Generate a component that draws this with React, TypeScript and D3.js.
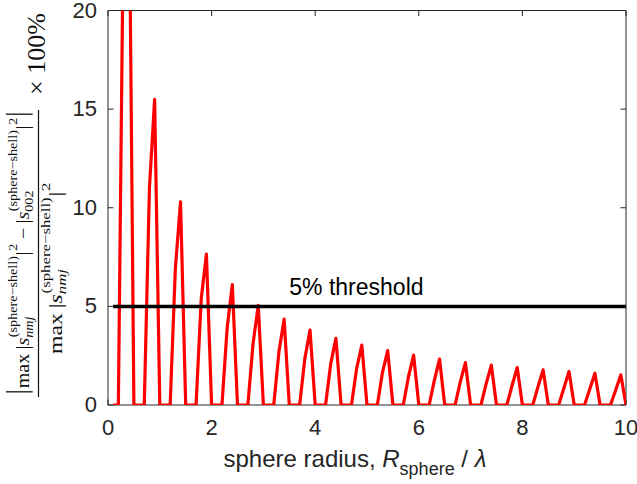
import React, { useEffect, useRef } from 'react';
import * as d3 from 'd3';

// sphere radius in wavelengths (sampling grid of the sweep)
const radius = [
  0.1, 0.2, 0.3, 0.4, 0.5, 0.6, 0.7, 0.8, 0.9, 1.0,
  1.1, 1.2, 1.3, 1.4, 1.5, 1.6, 1.7, 1.8, 1.9, 2.0,
  2.1, 2.2, 2.3, 2.4, 2.5, 2.6, 2.7, 2.8, 2.9, 3.0,
  3.1, 3.2, 3.3, 3.4, 3.5, 3.6, 3.7, 3.8, 3.9, 4.0,
  4.1, 4.2, 4.3, 4.4, 4.5, 4.6, 4.7, 4.8, 4.9, 5.0,
  5.1, 5.2, 5.3, 5.4, 5.5, 5.6, 5.7, 5.8, 5.9, 6.0,
  6.1, 6.2, 6.3, 6.4, 6.5, 6.6, 6.7, 6.8, 6.9, 7.0,
  7.1, 7.2, 7.3, 7.4, 7.5, 7.6, 7.7, 7.8, 7.9, 8.0,
  8.1, 8.2, 8.3, 8.4, 8.5, 8.6, 8.7, 8.8, 8.9, 9.0,
  9.1, 9.2, 9.3, 9.4, 9.5, 9.6, 9.7, 9.8, 9.9, 10.0,
];

// relative error in percent
const errorPct = [
  0, 0, 25, 29, 0, 0, 0, 11, 15.5, 0,
  0, 0, 6.9, 10.3, 0, 0, 0, 5.4, 7.65, 0,
  0, 0, 3.9, 6.1, 0, 0, 0, 3.1, 5.05, 0,
  0, 0, 2.7, 4.35, 0, 0, 0, 2.35, 3.8, 0,
  0, 0, 2.1, 3.38, 0, 0, 0, 1.85, 3.04, 0,
  0, 0, 1.67, 2.76, 0, 0, 0, 1.42, 2.53, 0,
  0, 0, 1.25, 2.33, 0, 0, 0, 1.16, 2.15, 0,
  0, 0, 1.07, 2.02, 0, 0, 0, 0.99, 1.9, 0,
  0, 0, 0.91, 1.78, 0, 0, 0, 0.85, 1.7, 0,
  0, 0, 0.8, 1.61, 0, 0, 0, 0.75, 1.53, 0,
];

const xTicks = [0, 2, 4, 6, 8, 10];
const yTicks = [0, 5, 10, 15, 20];
const threshold = 5;
const thresholdLabel = '5% threshold';

const W = 637, H = 484;
const ink = '#262626';
const sans = '"Liberation Sans", Arial, Helvetica, sans-serif';
const serif = '"Liberation Serif", "Times New Roman", serif';

type Item = { t?: string; it?: boolean; sup?: string; sub?: string; subIt?: boolean; gap?: number; bar?: boolean };

function put(g: any, txt: string, x: number, y: number, size: number, italic?: boolean) {
  const t = g.append('text')
    .attr('x', x).attr('y', y)
    .attr('font-size', size)
    .attr('font-style', italic ? 'italic' : 'normal')
    .text(txt);
  return (t.node() as SVGTextElement).getComputedTextLength();
}

// lay out one row of the math label, returns its width
function mathRow(g: any, items: Item[], size: number, small: number) {
  let cx = 0;
  items.forEach(d => {
    if (d.gap) { cx += d.gap; return; }
    if (d.bar) {
      g.append('line').attr('x1', cx + 1).attr('x2', cx + 1).attr('y1', -22).attr('y2', 3.5)
        .attr('stroke', '#111').attr('stroke-width', 1.1);
      cx += 2;
      return;
    }
    let w = 0;
    if (d.t) w = put(g, d.t, cx, 0, size, d.it);
    let sw = 0;
    if (d.sup) sw = Math.max(sw, put(g, d.sup, cx + w + 0.5, -11, small));
    if (d.sub) sw = Math.max(sw, put(g, d.sub, cx + w, 4, small, d.subIt));
    cx += w + sw + (sw ? 1 : 0);
  });
  return cx;
}

export default function App() {
  const ref = useRef<SVGSVGElement>(null);

  useEffect(() => {
    document.body.style.margin = '0';
    const svg = d3.select(ref.current);
    svg.selectAll('*').remove();

    const x = d3.scaleLinear().domain([0, 10]).range([108, 626]);
    const y = d3.scaleLinear().domain([0, 20]).range([405, 10.5]);

    svg.append('rect').attr('width', W).attr('height', H).attr('fill', '#fff');

    svg.append('clipPath').attr('id', 'plot-clip')
      .append('rect')
      .attr('x', x(0)).attr('y', y(20))
      .attr('width', x(10) - x(0)).attr('height', y(0) - y(20));

    // axes, ticks pointing inwards on all four sides
    const styleAxis = (g: any) => {
      g.attr('color', ink).attr('font-family', sans).attr('font-size', 22);
      g.selectAll('path.domain').attr('stroke-width', 1);
      g.selectAll('text').attr('fill', ink);
    };
    svg.append('g').attr('transform', `translate(0,${y(0)})`)
      .call(d3.axisBottom(x).tickValues(xTicks).tickSizeInner(-5.5).tickSizeOuter(0).tickPadding(14).offset(0))
      .call(styleAxis);
    svg.append('g').attr('transform', `translate(0,${y(20)})`)
      .call(d3.axisTop(x).tickValues(xTicks).tickSizeInner(-5.5).tickSizeOuter(0).tickFormat(() => '').offset(0))
      .call(styleAxis);
    svg.append('g').attr('transform', `translate(${x(0)},0)`)
      .call(d3.axisLeft(y).tickValues(yTicks).tickSizeInner(-5.5).tickSizeOuter(0).tickPadding(11).offset(0))
      .call(styleAxis);
    svg.append('g').attr('transform', `translate(${x(10)},0)`)
      .call(d3.axisRight(y).tickValues(yTicks).tickSizeInner(-5.5).tickSizeOuter(0).tickFormat(() => '').offset(0))
      .call(styleAxis);

    // error curve
    const line = d3.line<number>()
      .x((_, i) => x(radius[i]))
      .y(d => y(d));
    svg.append('path')
      .datum(errorPct)
      .attr('clip-path', 'url(#plot-clip)')
      .attr('d', line)
      .attr('fill', 'none')
      .attr('stroke', '#ff0000')
      .attr('stroke-width', 3.2)
      .attr('stroke-linejoin', 'round');

    // threshold
    const thr = [radius[0], radius[radius.length - 1]];
    svg.append('path')
      .datum(thr)
      .attr('d', d3.line<number>().x(d => x(d)).y(() => y(threshold)))
      .attr('stroke', '#000')
      .attr('stroke-width', 3.5);
    svg.append('text')
      .attr('x', x(3.5)).attr('y', y(5.56))
      .attr('font-family', sans).attr('font-size', 23).attr('fill', '#000')
      .text(thresholdLabel);

    // x label
    const xl = svg.append('text')
      .attr('x', 355).attr('y', 467)
      .attr('text-anchor', 'middle')
      .attr('font-family', sans).attr('font-size', 24).attr('fill', ink);
    xl.append('tspan').text('sphere radius, ');
    xl.append('tspan').attr('font-style', 'italic').text('R');
    xl.append('tspan').attr('font-size', 18).attr('dy', 8).text('sphere');
    xl.append('tspan').attr('dy', -8).text(' / ');
    xl.append('tspan').attr('font-style', 'italic').text('λ');

    // y label: rotated fraction
    const yl = svg.append('g')
      .attr('transform', 'translate(38.5,253) rotate(-90)')
      .attr('font-family', serif).attr('fill', '#111');
    yl.append('line').attr('x1', -144).attr('x2', 143).attr('y1', 0).attr('y2', 0)
      .attr('stroke', '#111').attr('stroke-width', 1.2);

    const numItems: Item[] = [
      { bar: true }, { gap: 2 }, { t: 'max' }, { gap: 3.5 },
      { t: '|' }, { t: 's', it: true, sup: '(sphere−shell)', sub: 'nmj', subIt: true },
      { t: '|', sup: '2' }, { gap: 3.5 }, { t: '−' }, { gap: 3.5 },
      { t: '|' }, { t: 's', it: true, sup: '(sphere−shell)', sub: '002' },
      { t: '|', sup: '2' }, { gap: 1.5 }, { bar: true },
    ];
    const denItems: Item[] = [
      { t: 'max' }, { gap: 3.5 },
      { t: '|' }, { t: 's', it: true, sup: '(sphere−shell)', sub: 'nmj', subIt: true },
      { t: '|', sup: '2' },
    ];
    const num = yl.append('g');
    const wn = mathRow(num, numItems, 17, 12);
    const kn = 280 / wn;
    num.attr('transform', `translate(${-wn * kn / 2},-9.5) scale(${kn},1.05)`);
    const den = yl.append('g');
    const wd = mathRow(den, denItems, 17, 12);
    const kd = 172 / wd;
    // denominator sits a little below the centre of the bar
    den.attr('transform', `translate(${-15 - wd * kd / 2},23) scale(${kd},1.05)`);

    const pct = yl.append('text').attr('x', 158).attr('y', 6).attr('font-size', 26);
    pct.text('× 100%');
  }, []);

  return <svg ref={ref} width={W} height={H} style={{ display: 'block' }} />;
}
